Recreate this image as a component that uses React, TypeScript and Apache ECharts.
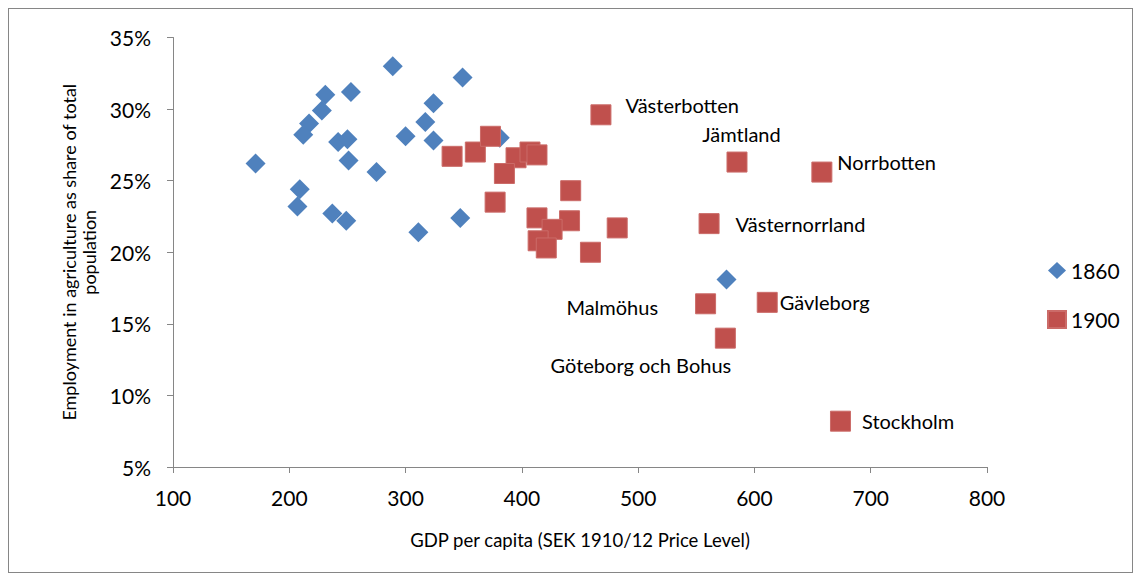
import React, { useEffect, useRef } from "react";
import * as echarts from "echarts";

// 1860 counties: GDP per capita and agricultural employment share (%)
const gdp1860 = [171, 289, 349, 231, 253, 324, 228, 217, 212, 317, 300, 324, 242, 250, 381, 251, 275, 209, 207, 237, 249, 347, 311, 576];
const agri1860 = [26.2, 33.0, 32.2, 31.0, 31.2, 30.4, 29.9, 29.0, 28.2, 29.1, 28.1, 27.8, 27.7, 27.9, 28.0, 26.4, 25.6, 24.4, 23.2, 22.7, 22.2, 22.4, 21.4, 18.1];

// 1900 counties
const gdp1900 = [340, 360, 373, 395, 407, 413, 385, 377, 442, 413, 441, 426, 414, 421, 459, 482, 468, 585, 658, 561, 558, 611, 575, 674];
const agri1900 = [26.7, 27.0, 28.1, 26.6, 27.0, 26.8, 25.5, 23.5, 24.3, 22.4, 22.2, 21.6, 20.8, 20.3, 20.0, 21.7, 29.6, 26.3, 25.6, 22.0, 16.4, 16.5, 14.0, 8.2];
const names1900 = ["", "", "", "", "", "", "", "", "", "", "", "", "", "", "", "", "Västerbotten", "Jämtland", "Norrbotten", "Västernorrland", "Malmöhus", "Gävleborg", "Göteborg och Bohus", "Stockholm"];

const seriesNames = ["1860", "1900"];
const xTitle = "GDP per capita (SEK 1910/12 Price Level)";
const yTitle = "Employment in agriculture as share of total\npopulation";

const labelPlacement: Record<string, { dx: number; dy: number; align: string }> = {
  "Västerbotten": { dx: 25, dy: -9, align: "left" },
  "Jämtland": { dx: 5, dy: -28, align: "center" },
  "Norrbotten": { dx: 16, dy: -10, align: "left" },
  "Västernorrland": { dx: 27, dy: 1, align: "left" },
  "Malmöhus": { dx: -47, dy: 4, align: "right" },
  "Gävleborg": { dx: 13, dy: 0, align: "left" },
  "Göteborg och Bohus": { dx: -84, dy: 27, align: "center" },
  "Stockholm": { dx: 22, dy: 0, align: "left" },
};

const FONT = "Lato, 'Open Sans', sans-serif";
const SYM = 20;

export default function App() {
  const ref = useRef<HTMLDivElement>(null);
  useEffect(() => {
    if (!ref.current) return;
    const chart = echarts.init(ref.current, undefined, { renderer: "svg" });
    const data1860 = gdp1860.map((g, i) => [g, agri1860[i]]);
    const data1900 = gdp1900.map((g, i) => {
      const name = names1900[i];
      const p = labelPlacement[name];
      const item: any = { value: [g, agri1900[i]], name };
      if (name && p) {
        item.label = {
          show: true,
          formatter: name,
          position: [SYM / 2 + p.dx, SYM / 2 + p.dy],
          align: p.align,
          verticalAlign: "middle",
          color: "#000",
          fontSize: 20,
          fontFamily: FONT,
        };
      }
      return item;
    });
    const axisLine = { show: true, lineStyle: { color: "#868686", width: 1 } };
    chart.setOption({
      animation: false,
      backgroundColor: "#fff",
      grid: { left: 164, right: 145, top: 28.5, bottom: 105 },
      legend: {
        orient: "vertical",
        left: 1038,
        top: 251,
        padding: 0,
        itemWidth: 18,
        itemHeight: 17,
        itemGap: 28,
        textStyle: { fontSize: 21, color: "#000", fontFamily: FONT },
        data: [
          { name: seriesNames[0], icon: "diamond" },
          { name: seriesNames[1], icon: "rect" },
        ],
      },
      xAxis: {
        type: "value",
        min: 100,
        max: 800,
        interval: 100,
        name: xTitle,
        nameLocation: "middle",
        nameGap: 63,
        nameTextStyle: { fontSize: 18.5, color: "#000", fontFamily: FONT },
        axisLine,
        axisTick: { show: true, length: 6, lineStyle: { color: "#868686" } },
        splitLine: { show: false },
        axisLabel: { fontSize: 21, color: "#000", margin: 20, fontFamily: FONT },
      },
      yAxis: {
        type: "value",
        min: 5,
        max: 35,
        interval: 5,
        name: yTitle,
        nameLocation: "middle",
        nameGap: 71,
        nameTextStyle: { fontSize: 18, color: "#000", fontFamily: FONT, lineHeight: 20 },
        axisLine,
        axisTick: { show: true, length: 6, lineStyle: { color: "#868686" } },
        splitLine: { show: false },
        axisLabel: { fontSize: 21, color: "#000", margin: 22, fontFamily: FONT, formatter: (v: number) => `${v}%` },
      },
      series: [
        {
          name: seriesNames[0],
          type: "scatter",
          symbol: "diamond",
          symbolSize: SYM,
          itemStyle: { color: "#4F81BD", opacity: 1 },
          data: data1860,
        },
        {
          name: seriesNames[1],
          type: "scatter",
          symbol: "rect",
          symbolSize: SYM,
          itemStyle: { color: "#C0504D", borderColor: "#CB6B68", borderWidth: 1, opacity: 1 },
          data: data1900,
        },
      ],
    });
    return () => chart.dispose();
  }, []);
  return (
    <div style={{ width: 1125, height: 565, border: "1px solid #868686", boxSizing: "border-box" }}>
      <div ref={ref} style={{ width: 1123, height: 563 }} />
    </div>
  );
}
